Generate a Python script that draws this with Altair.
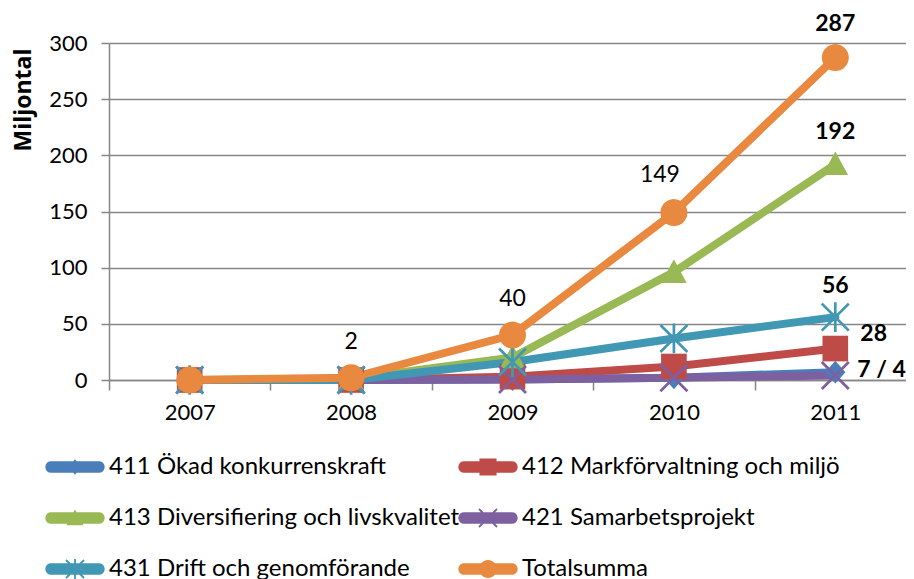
import altair as alt
import pandas as pd
import numpy as np

# ---------------- data ----------------
years = ["2007", "2008", "2009", "2010", "2011"]
series_names = [
    "411 Ökad konkurrenskraft",
    "412 Markförvaltning och miljö",
    "413 Diversifiering och livskvalitet",
    "421 Samarbetsprojekt",
    "431 Drift och genomförande",
    "Totalsumma",
]
v411 = [0, 0, 0.5, 2, 7]
v412 = [0, 0, 3, 12, 28]
v413 = [0, 1, 20, 96, 192]
v421 = [0, 0, 0.5, 2, 4]
v431 = [0, 0, 16, 37, 56]
vtot = [0, 2, 40, 149, 287]
series_values = [v411, v412, v413, v421, v431, vtot]

label_years = ["2011", "2011", "2011", "2011", "2011", "2010", "2009", "2008"]
label_values = [287, 192, 56, 28, 7, 149, 40, 2]
label_texts = ["287", "192", "56", "28", "7 / 4", "149", "40", "2"]

colors = ["#4A7EBB", "#BE4B48", "#98B954", "#7D60A0", "#4198B4", "#E9883F"]

rows = []
for k, (name, vals) in enumerate(zip(series_names, series_values)):
    for y, v in zip(years, vals):
        rows.append({"series": name, "year": y, "value": v, "k": k})
df = pd.DataFrame(rows)

lab_df = pd.DataFrame({"year": label_years, "value": label_values, "text": label_texts})


# ---------------- marker shapes (unit box -1..1) ----------------
def orient(pts):
    s = 0.0
    for i in range(len(pts)):
        x1, y1 = pts[i]
        x2, y2 = pts[(i + 1) % len(pts)]
        s += x1 * y2 - x2 * y1
    return pts if s > 0 else pts[::-1]


def poly(pts):
    pts = orient(pts)
    return "M" + " L".join(f"{x:.3f},{y:.3f}" for x, y in pts) + " Z"


def bar(x1, y1, x2, y2, w):
    dx, dy = x2 - x1, y2 - y1
    L = (dx * dx + dy * dy) ** 0.5
    nx, ny = -dy / L * w, dx / L * w
    return poly([(x1 + nx, y1 + ny), (x2 + nx, y2 + ny), (x2 - nx, y2 - ny), (x1 - nx, y1 - ny)])


circle = poly([(np.cos(t), np.sin(t)) for t in np.linspace(0, 2 * np.pi, 28, endpoint=False)])
diamond = poly([(0, -0.85), (0.75, 0), (0, 0.85), (-0.75, 0)])
square = poly([(-0.95, -0.95), (0.95, -0.95), (0.95, 0.95), (-0.95, 0.95)])
triangle = poly([(0, -0.95), (0.95, 0.8), (-0.95, 0.8)])
xmark = bar(-1, -1, 1, 1, 0.1) + " " + bar(-1, 1, 1, -1, 0.1)
star = xmark + " " + bar(0, -1.1, 0, 1.1, 0.1)
markers = [diamond, square, triangle, xmark, star, circle]


def legend_line(half=3.3, r=0.65):
    pts = [(-half + r, -r), (half - r, -r)]
    for t in np.linspace(-np.pi / 2, np.pi / 2, 9)[1:-1]:
        pts.append((half - r + r * np.cos(t), r * np.sin(t)))
    pts += [(half - r, r), (-half + r, r)]
    for t in np.linspace(np.pi / 2, 3 * np.pi / 2, 9)[1:-1]:
        pts.append((-half + r + r * np.cos(t), r * np.sin(t)))
    return poly(pts)


leg_line = legend_line()
legend_paths = [leg_line + " " + m for m in markers]

# ---------------- chart ----------------
FONT = "Lato"
GREY = "#878787"

cscale = alt.Scale(domain=series_names, range=colors)
xscale = alt.Scale(type="band", paddingInner=0, paddingOuter=0, range=[0, 807])
yscale = alt.Scale(domain=[0, 300], nice=False)

xaxis = alt.Axis(title=None, labelAngle=0, tickBand="extent", grid=False,
                 domainColor=GREY, tickColor=GREY, domainWidth=1.5, tickWidth=1.5,
                 tickSize=10, labelFont=FONT, labelFontSize=22, labelColor="black",
                 labelPadding=12)
yaxis = alt.Axis(title="Miljontal", values=[0, 50, 100, 150, 200, 250, 300], grid=True,
                 gridColor=GREY, gridWidth=1.5, domainColor=GREY, tickColor=GREY,
                 domainWidth=1.5, tickWidth=1.5, tickSize=8,
                 labelFont=FONT, labelFontSize=22, labelColor="black", labelPadding=14,
                 titleFont="Open Sans", titleFontSize=23, titleFontWeight="bold",
                 titleColor="black", titleAngle=-90, titleAlign="right",
                 titleBaseline="middle", titleX=-86, titleY=5)

leg = alt.Legend(title=None, orient="none", legendX=-46, legendY=412, columns=2,
                 direction="horizontal", symbolSize=324, symbolOpacity=1,
                 symbolStrokeWidth=0, labelFont=FONT, labelFontSize=24,
                 labelColor="black", labelOffset=22, labelLimit=600,
                 rowPadding=27, columnPadding=-2)

X = alt.X("year:N", scale=xscale, axis=xaxis, sort=years)
Y = alt.Y("value:Q", scale=yscale, axis=yaxis)
C = alt.Color("series:N", scale=cscale, legend=leg)

lines = alt.Chart(df).mark_line(strokeWidth=8, strokeCap="round", strokeJoin="round").encode(
    x=X, y=Y, color=C, order=alt.Order("k:Q"))

layers = [lines]
for name, m in zip(series_names, markers):
    layers.append(
        alt.Chart(df).transform_filter(alt.datum.series == name)
        .mark_point(shape=m, size=729, filled=True, opacity=1, strokeWidth=0)
        .encode(x=X, y=Y, color=C)
    )

label_style = {
    "287": dict(dx=0, dy=-27, align="center", fontWeight="bold"),
    "192": dict(dx=0, dy=-25, align="center", fontWeight="bold"),
    "56": dict(dx=0, dy=-24, align="center", fontWeight="bold"),
    "28": dict(dx=25, dy=-8, align="left", fontWeight="bold"),
    "7 / 4": dict(dx=22, dy=5, align="left", fontWeight="bold"),
    "149": dict(dx=-14, dy=-31, align="center", fontWeight="normal"),
    "40": dict(dx=0, dy=-29, align="center", fontWeight="normal"),
    "2": dict(dx=0, dy=-29, align="center", fontWeight="normal"),
}
for t in label_texts:
    st = label_style[t]
    layers.append(
        alt.Chart(lab_df).transform_filter(alt.datum.text == t)
        .mark_text(font=FONT, fontSize=23, color="black", baseline="alphabetic", **st)
        .encode(x=X, y=Y, text="text:N")
    )

dummy = alt.Chart(df).mark_point(filled=True, opacity=0).encode(
    x=X, y=Y, color=C,
    shape=alt.Shape("series:N", scale=alt.Scale(domain=series_names, range=legend_paths), legend=leg))
layers.append(dummy)

chart = alt.layer(*layers).properties(
    width=797, height=337,
    autosize=alt.AutoSizeParams(type="none"),
    padding={"left": 101, "top": 35, "right": 0, "bottom": 199},
).configure_view(stroke=None)

chart.save("out.html", embed_options={"renderer": "svg", "actions": False})
